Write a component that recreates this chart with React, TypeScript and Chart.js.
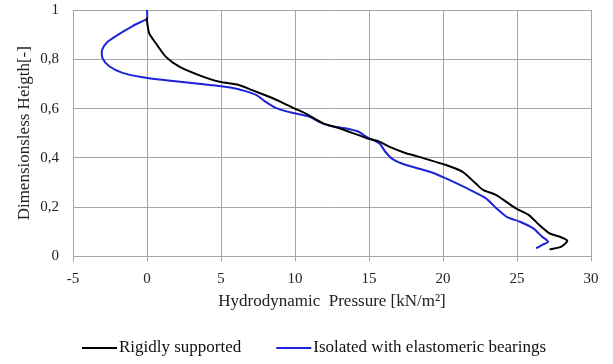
import React, { useEffect, useRef } from "react";
import { Chart, registerables } from "chart.js";

Chart.register(...registerables);

const xTickMin = -5;
const xTickMax = 30;
const yTickMin = 0;
const yTickMax = 1;

const rigidLabel = "Rigidly supported";
const rigidPressure = [0, 0, 0.15, 0.6, 1.28, 2.18, 3.5, 4.9, 6.2, 7.1, 8.5, 9.95, 10.7, 11.9, 13.0, 14.9, 15.7, 16.4, 17.5, 17.95, 20.2, 21.3, 22.2, 22.7, 23.6, 24.9, 25.8, 26.5, 27.2, 27.9, 28.4, 28.0, 27.2];
const rigidHeight = [0.97, 0.955, 0.905, 0.865, 0.81, 0.77, 0.736, 0.709, 0.696, 0.675, 0.642, 0.601, 0.581, 0.54, 0.52, 0.479, 0.466, 0.445, 0.419, 0.412, 0.371, 0.344, 0.297, 0.27, 0.249, 0.196, 0.168, 0.128, 0.094, 0.08, 0.064, 0.04, 0.029];

const isolatedLabel = "Isolated with elastomeric bearings";
const isolatedPressure = [0, 0, -0.3, -0.97, -1.87, -2.66, -3.04, -3.0, -2.55, -1.65, -0.3, 1.28, 3.5, 5.8, 6.6, 7.4, 8.0, 8.7, 9.8, 11.0, 11.6, 12.3, 13.4, 14.3, 14.8, 15.7, 16.1, 16.6, 17.5, 19.1, 20.2, 21.6, 22.9, 23.6, 24.3, 25.2, 26.1, 26.7, 27.1, 26.7, 26.3];
const isolatedHeight = [1.0, 0.965, 0.955, 0.935, 0.903, 0.871, 0.838, 0.804, 0.772, 0.745, 0.727, 0.715, 0.701, 0.684, 0.672, 0.655, 0.628, 0.603, 0.583, 0.567, 0.547, 0.531, 0.52, 0.506, 0.486, 0.459, 0.425, 0.395, 0.371, 0.344, 0.317, 0.277, 0.236, 0.196, 0.161, 0.141, 0.114, 0.08, 0.06, 0.047, 0.033];

const xTitle = "Hydrodynamic  Pressure [kN/m²]";
const yTitle = "Dimensionsless Heigth[-]";

const FONT = "'Liberation Serif', 'Times New Roman', serif";

const toPoints = (xs: number[], ys: number[]) => xs.map((x, i) => ({ x, y: ys[i] }));

const legendPlugin = {
  id: "customLegend",
  afterDraw(chart: any) {
    const ctx = chart.ctx;
    const ds = chart.data.datasets;
    ctx.save();
    ctx.font = `17px ${FONT}`;
    ctx.textBaseline = "middle";
    const lineLen = 35;
    const gapText = 2;
    const gapItem = 35;
    const widths = ds.map((d: any) => ctx.measureText(d.label).width);
    let x = 82;
    const y = 348;
    ds.forEach((d: any, i: number) => {
      ctx.strokeStyle = d.borderColor;
      ctx.lineWidth = 2;
      ctx.beginPath();
      ctx.moveTo(x, y);
      ctx.lineTo(x + lineLen, y);
      ctx.stroke();
      ctx.fillStyle = "#111";
      ctx.fillText(d.label, x + lineLen + gapText, y);
      x += lineLen + gapText + widths[i] + gapItem;
    });
    ctx.restore();
  },
};

export default function App() {
  const ref = useRef<HTMLCanvasElement>(null);
  useEffect(() => {
    if (!ref.current) return;
    const chart = new Chart(ref.current, {
      type: "scatter",
      data: {
        datasets: [
          {
            label: rigidLabel,
            data: toPoints(rigidPressure, rigidHeight),
            showLine: true,
            borderColor: "#000000",
            backgroundColor: "#000000",
            borderWidth: 2,
            pointRadius: 0,
            tension: 0.25,
          },
          {
            label: isolatedLabel,
            data: toPoints(isolatedPressure, isolatedHeight),
            showLine: true,
            borderColor: "#1e22d8",
            backgroundColor: "#1e22d8",
            borderWidth: 2,
            pointRadius: 0,
            tension: 0.25,
          },
        ],
      },
      options: {
        animation: false,
        responsive: true,
        maintainAspectRatio: false,
        layout: { padding: { top: 10, right: 22, bottom: 52.5, left: 0 } },
        plugins: { legend: { display: false }, tooltip: { enabled: false } },
        scales: {
          x: {
            type: "linear",
            min: xTickMin,
            max: xTickMax,
            ticks: { stepSize: 5, color: "#222", font: { family: FONT, size: 15 }, padding: 9 },
            grid: { color: "#a6a6a6", lineWidth: 1, tickLength: 5 },
            border: { color: "#a6a6a6" },
            title: { display: true, text: xTitle, color: "#222", font: { family: FONT, size: 17 }, padding: 0 },
            afterFit: (s: any) => {
              s.height = 55;
              s.paddingLeft = 0;
              s.paddingRight = 0;
            },
          },
          y: {
            type: "linear",
            min: yTickMin,
            max: yTickMax,
            ticks: {
              stepSize: 0.2,
              color: "#222",
              font: { family: FONT, size: 15 },
              padding: 14,
              callback: (v: any) => {
                const n = Number(v);
                if (Math.abs(n) < 1e-9) return "0";
                if (Math.abs(n - 1) < 1e-9) return "1";
                return n.toFixed(1).replace(".", ",");
              },
            },
            grid: { color: "#a6a6a6", lineWidth: 1, drawTicks: false },
            border: { color: "#a6a6a6" },
            title: { display: true, text: yTitle, color: "#222", font: { family: FONT, size: 17 }, padding: { top: 14, bottom: 0 } },
            afterFit: (s: any) => {
              s.width = 73;
              s.paddingTop = 0;
              s.paddingBottom = 0;
            },
          },
        },
      },
      plugins: [legendPlugin],
    });
    return () => chart.destroy();
  }, []);
  return (
    <div style={{ position: "absolute", left: 0, top: 0, width: 613, height: 364, background: "#fff" }}>
      <canvas ref={ref} />
    </div>
  );
}
